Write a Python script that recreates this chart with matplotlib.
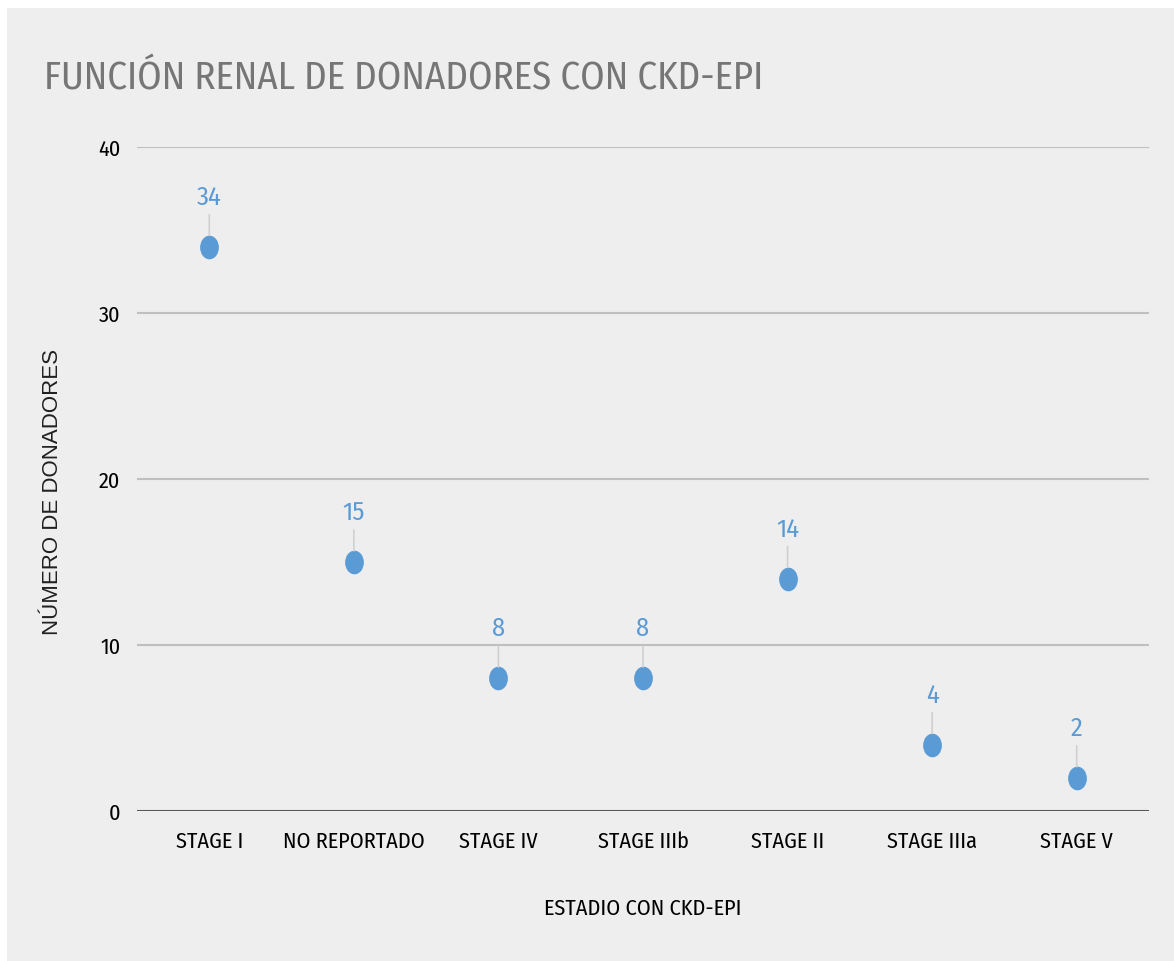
import matplotlib

matplotlib.use("Agg")
import matplotlib.pyplot as plt
from matplotlib import font_manager
from matplotlib.patches import Rectangle
from matplotlib.path import Path
from matplotlib.transforms import Affine2D

categories = ["STAGE I", "NO REPORTADO", "STAGE IV", "STAGE IIIb",
              "STAGE II", "STAGE IIIa", "STAGE V"]
donors = [34, 15, 8, 8, 14, 4, 2]
y_ticks = [0, 10, 20, 30, 40]

# the original text is a squeezed Segoe-like face; pick a condensed sans
# that has a regular/light cut installed
fonts = font_manager.fontManager.ttflist
cond, weight = "Open Sans", 400
for cand in ["Open Sans Condensed", "Fira Sans Condensed", "Roboto Condensed",
             "Encode Sans Condensed", "Liberation Sans Narrow"]:
    ws = sorted(f.weight for f in fonts if f.name == cand and f.style == "normal"
                and isinstance(f.weight, int) and f.weight <= 400)
    if ws:
        cond, weight = cand, ws[-1]
        break
COND = dict(family=[cond, "DejaVu Sans"], fontweight=weight)

BG = "#EEEEEE"
BLUE = "#5B9BD5"

fig = plt.figure(figsize=(11.74, 9.62), dpi=100)
fig.patch.set_facecolor("white")
fig.patches.append(Rectangle((7 / 1174, 0), 1, 1 - 9 / 962,
                             transform=fig.transFigure, facecolor=BG,
                             edgecolor="none", zorder=-10))

ax = fig.add_axes([137 / 1174, 1 - 812 / 962, 1012 / 1174, 664 / 962])
ax.patch.set_alpha(0)

# slightly tall ellipse marker, like the original
ellipse = Path.unit_circle().transformed(Affine2D().scale(0.78, 1.0))

x = list(range(len(categories)))
ax.plot(x, donors, linestyle="none", marker=ellipse, markersize=16,
        color=BLUE, zorder=3)

for xi, v in zip(x, donors):
    ax.annotate(str(v), xy=(xi, v), xytext=(0, 36), textcoords="offset points",
                ha="center", va="center", color=BLUE, fontsize=19, **COND,
                arrowprops=dict(arrowstyle="-", color="#D0D0D0", lw=1.2,
                                shrinkA=2, shrinkB=8))

ax.set_xlim(-0.5, len(categories) - 0.5)
ax.set_ylim(0, 40)
ax.set_yticks(y_ticks)
ax.set_xticks(x)
ax.set_xticklabels(categories, fontsize=16, **COND)
ax.set_yticklabels([str(t) for t in y_ticks], fontsize=16, **COND)
ax.tick_params(length=0, pad=12)
ax.tick_params(axis="x", pad=14)

for t in y_ticks[1:]:
    ax.axhline(t, color="#BFBFBF", lw=1.5, zorder=1)
ax.axhline(0, color="#595959", lw=1.5, zorder=2)
for s in ax.spines.values():
    s.set_visible(False)

ax.set_ylabel("NÚMERO DE DONADORES", family=["Liberation Sans", "DejaVu Sans"],
              fontsize=16, color="#202020")
ax.yaxis.set_label_coords(-74 / 1012, 0.482)
ax.set_xlabel("ESTADIO CON CKD-EPI", fontsize=16, labelpad=33, **COND)

fig.text(44 / 1174, 1 - 79 / 962, "FUNCIÓN RENAL DE DONADORES CON CKD-EPI",
         fontsize=28, color="#767676", ha="left", va="center", **COND)

fig.savefig("out.png", dpi=100, facecolor=fig.get_facecolor())
